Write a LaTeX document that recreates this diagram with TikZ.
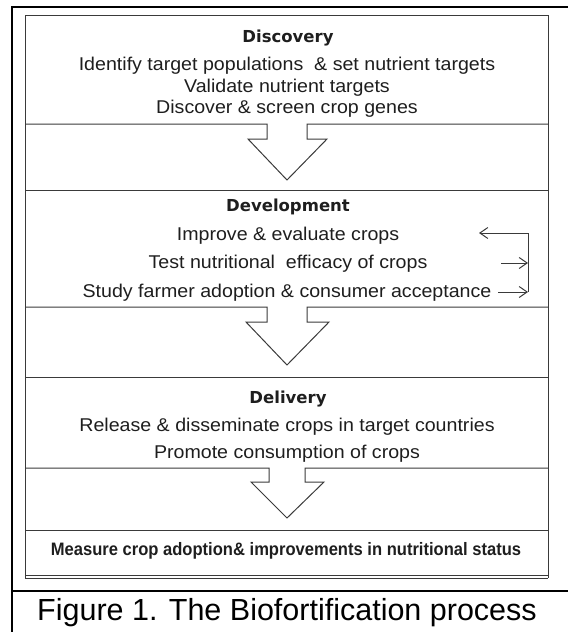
\documentclass[tikz,border=0pt]{standalone}
\usepackage{fontspec}
\setmainfont{Liberation Sans}
\newfontfamily\titlefont{DejaVu Sans}
\newfontfamily\bodyfont[FakeStretch=1.06]{Liberation Sans}
\newfontfamily\measurefont[FakeStretch=0.92]{Liberation Sans}
\usetikzlibrary{arrows.meta}
\definecolor{boxgray}{HTML}{3A3A3A}
\definecolor{txt}{HTML}{1E1E1E}
\tikzset{
  frame/.style={line width=2.2pt, black},
  boxline/.style={line width=1pt, boxgray},
  titletext/.style={font=\titlefont\bfseries\fontsize{16.5}{18}\selectfont, inner sep=0pt, anchor=base, text=txt},
  bodytext/.style={font=\bodyfont\fontsize{18.5}{22}\selectfont, inner sep=0pt, anchor=base, text=txt},
  measuretext/.style={font=\measurefont\bfseries\fontsize{18}{20}\selectfont, inner sep=0pt, anchor=base, text=txt},
  captiontext/.style={font=\fontsize{30.5}{34}\selectfont, inner sep=0pt, anchor=base, text=black},
  fbarrow/.style={line width=1pt, boxgray, -{Straight Barb[length=8pt,width=11pt]}},
  fbline/.style={line width=1pt, boxgray}
}
\begin{document}
\begin{tikzpicture}[x=1pt,y=-1pt]
\useasboundingbox (0,0) rectangle (568,632);
% outer frame and caption separator
\draw[frame] (12,632) -- (12,7) -- (568,7);
\draw[frame] (12,591) -- (568,591);
% inner box outline
\draw[boxline] (25,15) -- (548,15);
\draw[boxline] (25,15) -- (25,578);
\draw[boxline] (548,15) -- (548,578);
\draw[boxline] (25,575) -- (548,575);
\draw[boxline] (25,578) -- (548,578);
% dividers with block arrows
\draw[boxline] (25,124) -- (267,124) -- (267,139) -- (248,139) -- (287,180) -- (327,139) -- (307,139) -- (307,124) -- (548,124);
\draw[boxline] (25,190) -- (548,190);
\draw[boxline] (25,307) -- (267,307) -- (267,322) -- (246,322) -- (287,365) -- (329,322) -- (307,322) -- (307,307) -- (548,307);
\draw[boxline] (25,377) -- (548,377);
\draw[boxline] (25,468) -- (269,468) -- (269,482) -- (251,482) -- (287,518) -- (324,482) -- (305,482) -- (305,468) -- (548,468);
\draw[boxline] (25,530) -- (548,530);
% Discovery
\node[titletext] (disc) at (288,42) {Discovery};
\node[bodytext] (disc1) at (287,70) {Identify target populations \ \& set nutrient targets};
\node[bodytext] (disc2) at (287,92) {Validate nutrient targets};
\node[bodytext] (disc3) at (287,113) {Discover \& screen crop genes};
% Development
\node[titletext] (dev) at (288,211) {Development};
\node[bodytext] (dev1) at (288,240) {Improve \& evaluate crops};
\node[bodytext] (dev2) at (288,268) {Test nutritional \ efficacy of crops};
\node[bodytext] (dev3) at (287,297) {Study farmer adoption \& consumer acceptance};
% Delivery
\node[titletext] (del) at (288,403) {Delivery};
\node[bodytext] (del1) at (287,431) {Release \& disseminate crops in target countries};
\node[bodytext] (del2) at (287,458) {Promote consumption of crops};
% Measure
\node[measuretext] (meas) at (286,555) {Measure crop adoption\& improvements in nutritional status};
% caption
\node[captiontext] (cap) at (287,620) {Figure 1. The Biofortification process};
% feedback connectors
\coordinate (fbTop) at (528,233);
\coordinate (fbBot) at (528,292);
\coordinate (fbImp) at (479,233);
\coordinate (fbTestS) at (501,263);
\coordinate (fbTestE) at (528,263);
\coordinate (fbStudyS) at (498,292);
\draw[fbline] (fbTop) -- (fbBot);
\draw[fbarrow] (fbTop) -- (fbImp);
\draw[fbarrow] (fbTestS) -- (fbTestE);
\draw[fbarrow] (fbStudyS) -- (fbBot);
\end{tikzpicture}
\end{document}
